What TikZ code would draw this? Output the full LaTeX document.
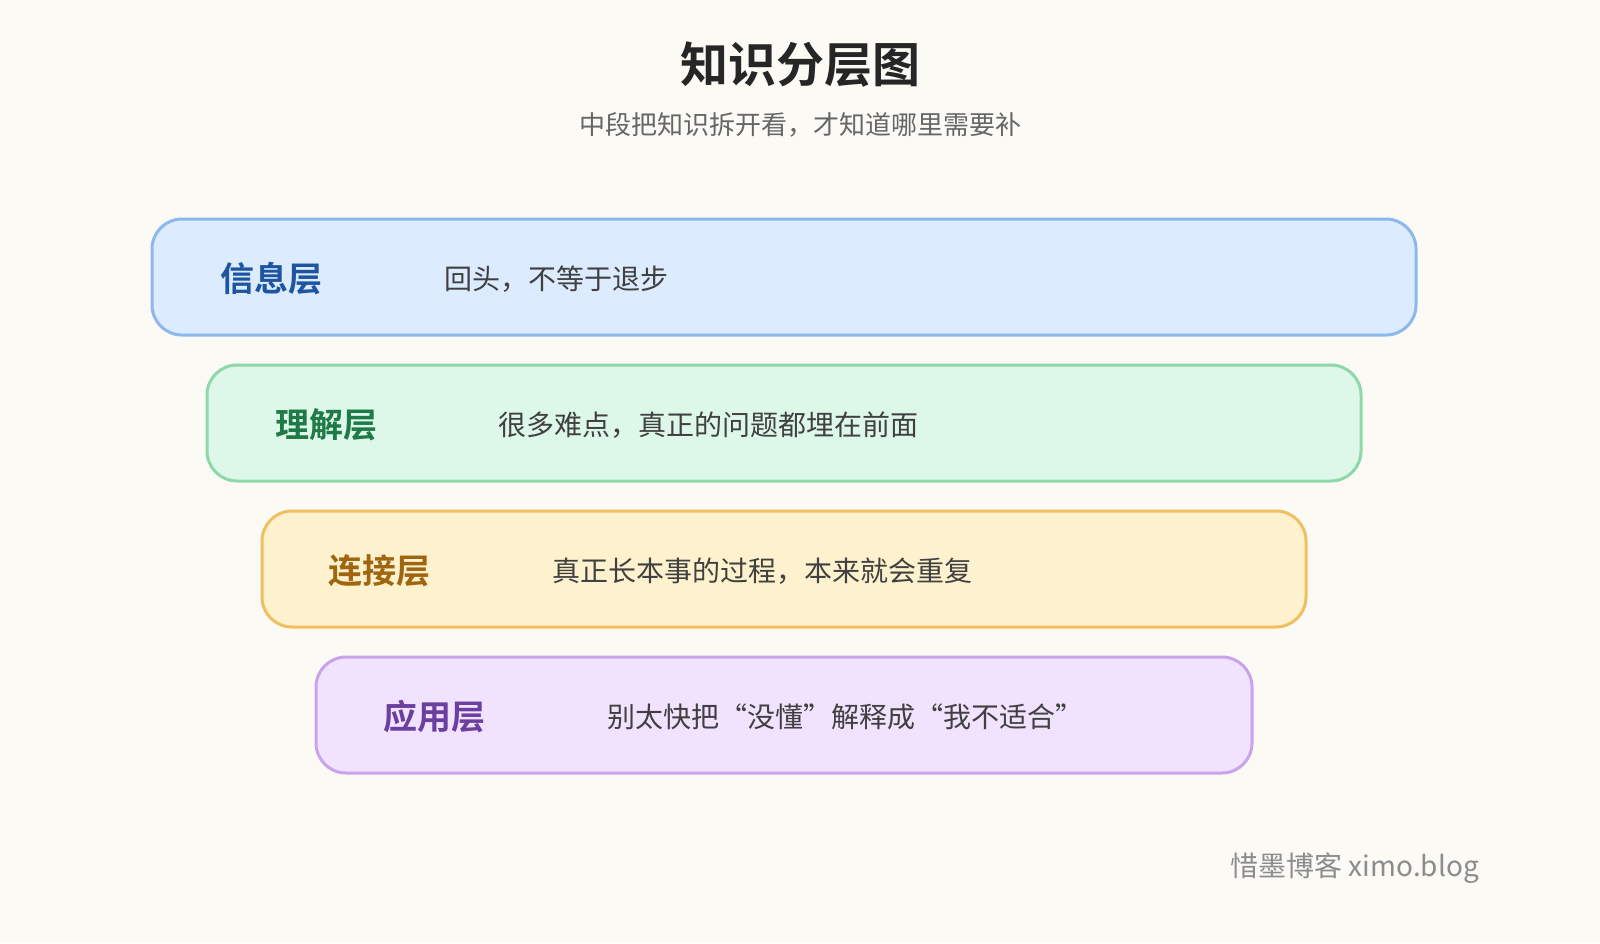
\documentclass[tikz,border=0pt]{standalone}
\usepackage{fontspec}
\newfontfamily\cjk{Noto Sans CJK SC}
\newfontfamily\cjkb{Noto Sans CJK SC Bold}
\usepackage{xcolor}
\definecolor{bgc}{HTML}{FBFAF5}
\definecolor{infofill}{HTML}{DCEBFE}\definecolor{infoline}{HTML}{8DB8EE}\definecolor{infotext}{HTML}{1E55A0}
\definecolor{underfill}{HTML}{DDF7E9}\definecolor{underline}{HTML}{8ED8AC}\definecolor{undertext}{HTML}{1F7A48}
\definecolor{linkfill}{HTML}{FEF1CD}\definecolor{linkline}{HTML}{F0C060}\definecolor{linktext}{HTML}{A0650F}
\definecolor{usefill}{HTML}{F1E2FE}\definecolor{useline}{HTML}{C9A4EC}\definecolor{usetext}{HTML}{6B3FA0}
\tikzset{
  layer/.style={rounded corners=15pt,line width=1.5pt},
  layername/.style={anchor=west,font=\cjkb\fontsize{17}{20}\selectfont},
  layernote/.style={anchor=west,text=black!75,font=\cjk\fontsize{14}{17}\selectfont}
}
\begin{document}
\begin{tikzpicture}[x=0.5pt,y=-0.5pt]
\fill[bgc] (0,0) rectangle (1600,943);
\useasboundingbox (0,0) rectangle (1600,943);
% Title
\node (title) at (800,65) {\cjkb\fontsize{24}{28}\selectfont\color{black!85}知识分层图};
\node (subtitle) at (800,125) {\cjk\fontsize{13}{16}\selectfont\color{black!60}中段把知识拆开看，才知道哪里需要补};
% Layers
\foreach \lx/\rx/\ty/\nm/\nx/\tx/\note in
  {152/1416/219/info/215/440/{回头，不等于退步},
   207/1361/365/under/270/494/{很多难点，真正的问题都埋在前面},
   262/1306/511/link/323/548/{真正长本事的过程，本来就会重复},
   316/1252/657/use/378/603/{别太快把“没懂”解释成“我不适合”}}
  \draw[layer,fill=\nm fill,draw=\nm line] (\lx,\ty) rectangle (\rx,\ty+116);
\node[layername,text=infotext] (infoname) at (213,279) {信息层};
\node[layernote] (infonote) at (437,279) {回头，不等于退步};
\node[layername,text=undertext] (undername) at (268,425) {理解层};
\node[layernote] (undernote) at (491,425) {很多难点，真正的问题都埋在前面};
\node[layername,text=linktext] (linkname) at (321,571) {连接层};
\node[layernote] (linknote) at (545,571) {真正长本事的过程，本来就会重复};
\node[layername,text=usetext] (usename) at (376,717) {应用层};
\node[layernote] (usenote) at (600,717) {别太快把“没懂”解释成“我不适合”};
% Footer
\node[anchor=east,text=black!45,font=\cjk\fontsize{14}{17}\selectfont] (footer) at (1486,868) {惜墨博客 ximo.blog};
\end{tikzpicture}
\end{document}
